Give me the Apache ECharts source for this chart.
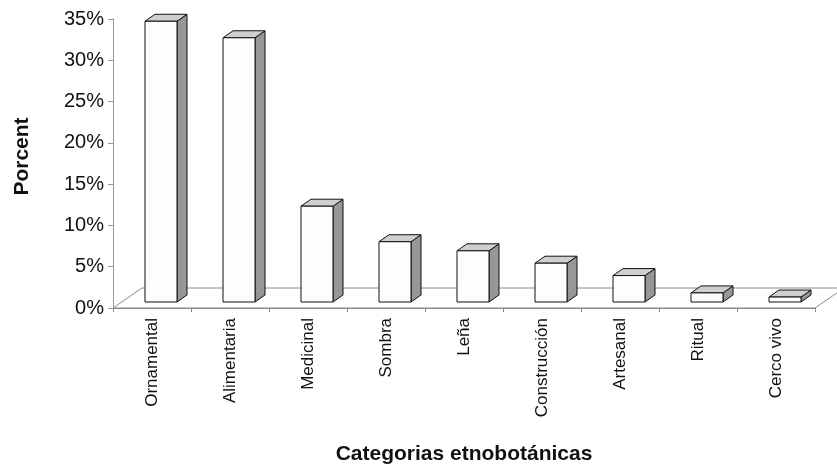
<!DOCTYPE html>
<html>
<head>
<meta charset="utf-8">
<script src="https://cdn.jsdelivr.net/npm/echarts@6/dist/echarts.min.js"></script>
<style>
  html, body { margin: 0; padding: 0; background: #fff; }
  #chart { width: 837px; height: 472px; }
</style>
</head>
<body>
<div id="chart"></div>
<script>
// Ethnobotanical use categories and their share of mentions (%)
const categories = ['Ornamental', 'Alimentaria', 'Medicinal', 'Sombra', 'Leña',
                    'Construcción', 'Artesanal', 'Ritual', 'Cerco vivo'];
const percentages = [34.0, 32.0, 11.6, 7.3, 6.2, 4.7, 3.2, 1.1, 0.6];
const yTicks = [0, 5, 10, 15, 20, 25, 30, 35];

const FONT = "'Liberation Sans', Arial, sans-serif";

// pseudo-3D geometry (pixels)
const FLOOR_DX = 29, FLOOR_DY = -20;       // depth of the floor
const BAR_FRONT_DX = 9, BAR_FRONT_DY = -6; // bar front plane inside the floor
const BAR_DX = 10, BAR_DY = -7;            // depth of each bar
const BAR_W = 32;

const chart = echarts.init(document.getElementById('chart'), null, { renderer: 'canvas' });

function renderFloor(params, api) {
  const cs = params.coordSys;
  const x0 = cs.x, x1 = cs.x + cs.width, yb = cs.y + cs.height;
  return {
    type: 'polygon',
    shape: { points: [[x0, yb], [x1, yb], [x1 + FLOOR_DX, yb + FLOOR_DY], [x0 + FLOOR_DX, yb + FLOOR_DY]] },
    style: { fill: '#ffffff', stroke: '#8a8a8a', lineWidth: 1 },
    silent: true
  };
}

function renderBar(params, api) {
  const idx = api.value(0);
  const v = api.value(1);
  const base = api.coord([idx, 0]);
  const top = api.coord([idx, v]);
  const x0 = base[0] - 16 + BAR_FRONT_DX;
  const x1 = x0 + BAR_W;
  const yb = base[1] + BAR_FRONT_DY;
  const yt = top[1] + BAR_FRONT_DY;
  const edge = { stroke: '#111', lineWidth: 1, lineJoin: 'round' };
  return {
    type: 'group',
    children: [
      { type: 'polygon',
        shape: { points: [[x1, yb], [x1 + BAR_DX, yb + BAR_DY], [x1 + BAR_DX, yt + BAR_DY], [x1, yt]] },
        style: Object.assign({ fill: '#979797' }, edge) },
      { type: 'polygon',
        shape: { points: [[x0, yt], [x0 + BAR_DX, yt + BAR_DY], [x1 + BAR_DX, yt + BAR_DY], [x1, yt]] },
        style: Object.assign({ fill: '#cfcfcf' }, edge) },
      { type: 'rect',
        shape: { x: x0, y: yt, width: BAR_W, height: yb - yt },
        style: Object.assign({ fill: '#fdfdfd' }, edge) }
    ]
  };
}

chart.setOption({
  animation: false,
  backgroundColor: '#ffffff',
  grid: { left: 113, right: 22, top: 19, bottom: 164, containLabel: false },
  xAxis: {
    type: 'category',
    data: categories,
    name: 'Categorias etnobotánicas',
    nameLocation: 'middle',
    nameGap: 136,
    nameTextStyle: { fontFamily: FONT, fontSize: 21, fontWeight: 'bold', color: '#111' },
    axisLine: { lineStyle: { color: '#888', width: 1 } },
    axisTick: { show: true, length: 4, lineStyle: { color: '#888' } },
    axisLabel: { rotate: 90, margin: 10, fontFamily: FONT, fontSize: 17, color: '#111' },
    splitLine: { show: false }
  },
  yAxis: {
    type: 'value',
    min: yTicks[0],
    max: yTicks[yTicks.length - 1],
    interval: yTicks[1] - yTicks[0],
    name: 'Porcent',
    nameLocation: 'middle',
    nameGap: 80,
    nameTextStyle: { fontFamily: FONT, fontSize: 21, fontWeight: 'bold', color: '#111', padding: [0, 0, 0, 14] },
    axisLine: { show: true, lineStyle: { color: '#999', width: 1 } },
    axisTick: { show: true, length: 5, lineStyle: { color: '#999' } },
    axisLabel: { margin: 9, fontFamily: FONT, fontSize: 20, color: '#111', formatter: '{value}%' },
    splitLine: { show: false }
  },
  series: [
    { type: 'custom', renderItem: renderFloor, data: [0], silent: true, z: 1 },
    { type: 'custom', renderItem: renderBar,
      data: percentages.map((p, i) => [i, p]),
      encode: { x: 0, y: 1 }, z: 2 }
  ]
});
</script>
</body>
</html>
